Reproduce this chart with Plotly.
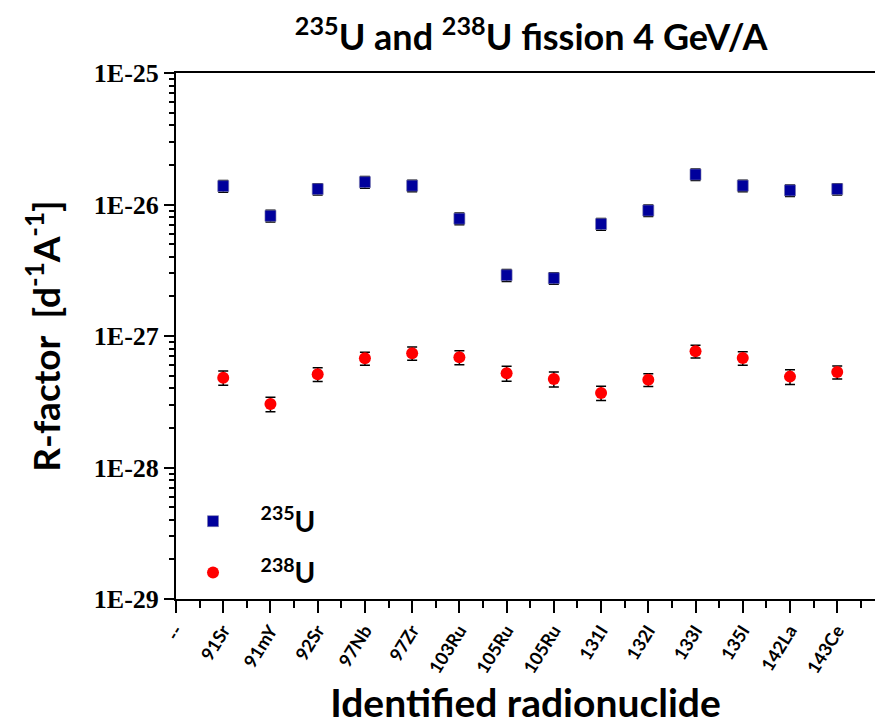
import plotly.graph_objects as go

nuclides = ["--", "91Sr", "91mY", "92Sr", "97Nb", "97Zr", "103Ru", "105Ru", "105Ru",
            "131I", "132I", "133I", "135I", "142La", "143Ce"]

u235 = [1.38e-26, 8.2e-27, 1.31e-26, 1.48e-26, 1.39e-26, 7.8e-27, 2.9e-27, 2.75e-27,
        7.1e-27, 9.0e-27, 1.69e-26, 1.39e-26, 1.28e-26, 1.31e-26]
u235_err = [1.4e-27, 8.5e-28, 1.3e-27, 1.5e-27, 1.4e-27, 8.0e-28, 3.0e-28, 2.8e-28,
            7.2e-28, 9.0e-28, 1.7e-27, 1.4e-27, 1.3e-27, 1.3e-27]

u238 = [4.82e-28, 3.04e-28, 5.12e-28, 6.76e-28, 7.38e-28, 6.89e-28, 5.20e-28, 4.71e-28,
        3.69e-28, 4.65e-28, 7.65e-28, 6.80e-28, 4.91e-28, 5.32e-28]
u238_err = [6.0e-29, 3.8e-29, 6.2e-29, 7.8e-29, 8.5e-29, 8.5e-29, 6.8e-29, 6.2e-29,
            4.6e-29, 5.2e-29, 8.5e-29, 8.0e-29, 6.4e-29, 6.0e-29]

decades = [-29, -28, -27, -26, -25]
major_vals = [10.0 ** d for d in decades]
major_text = ["1E%d" % d for d in decades]

xpos = list(range(1, len(nuclides)))

fig = go.Figure()
fig.add_trace(go.Scatter(
    x=xpos, y=u235, mode="markers", name="<sup>235</sup>U", legendgroup="a",
    marker=dict(symbol="square", size=11, color="#00009C",
                line=dict(width=1, color="rgba(120,120,170,0.6)")),
    error_y=dict(type="data", array=u235_err, color="black", thickness=1.5, width=5),
))
fig.add_trace(go.Scatter(
    x=xpos, y=u238, mode="markers", name="<sup>238</sup>U", legendgroup="b",
    marker=dict(symbol="circle", size=12, color="#FF0000"),
    error_y=dict(type="data", array=u238_err, color="black", thickness=1.5, width=5),
))

title_font = "Lato"
fig.update_layout(
    width=875, height=727,
    margin=dict(l=176, r=0, t=73, b=128),
    paper_bgcolor="white", plot_bgcolor="white",
    title=dict(text="<sup>235</sup>U and <sup>238</sup>U fission 4 GeV/A",
               x=0.607, xanchor="center", y=0.948, yanchor="middle",
               font=dict(family=title_font, size=36, color="black", weight="bold")),
    showlegend=True,
    legend=dict(x=-0.015, y=0.195, xanchor="left", yanchor="top",
                font=dict(family=title_font, size=28, color="black", weight="bold"),
                bgcolor="rgba(0,0,0,0)", itemwidth=85, tracegroupgap=12),
)

fig.update_xaxes(
    range=[0, 14.8], tickmode="array", tickvals=list(range(len(nuclides))), ticktext=nuclides,
    tickangle=-58, showgrid=False, zeroline=False,
    showline=True, linecolor="black", linewidth=2, mirror=True,
    ticks="outside", ticklen=12, tickwidth=2, tickcolor="black",
    minor=dict(tickmode="linear", tick0=0.5, dtick=1, ticks="outside", ticklen=7,
               tickwidth=2, tickcolor="black", showgrid=False),
    tickfont=dict(family=title_font, size=18, color="black", weight="bold"),
    title=dict(text="Identified radionuclide", standoff=14,
               font=dict(family=title_font, size=39, color="black", weight="bold")),
)

fig.update_yaxes(
    type="log", range=[-29, -25], showgrid=False, zeroline=False,
    tickmode="array", tickvals=major_vals, ticktext=major_text,
    showline=True, linecolor="black", linewidth=2, mirror=False,
    ticks="outside", ticklen=10, tickwidth=2, tickcolor="black",
    minor=dict(dtick="D1", ticks="outside", ticklen=5,
               tickwidth=1.5, tickcolor="black", showgrid=False),
    tickfont=dict(family="Liberation Serif", size=26, color="black", weight="bold"),
    title=dict(text="R-factor  [d<sup>-1</sup>A<sup>-1</sup>]", standoff=22,
               font=dict(family=title_font, size=37, color="black", weight="bold")),
)

fig.write_html("out.html")
